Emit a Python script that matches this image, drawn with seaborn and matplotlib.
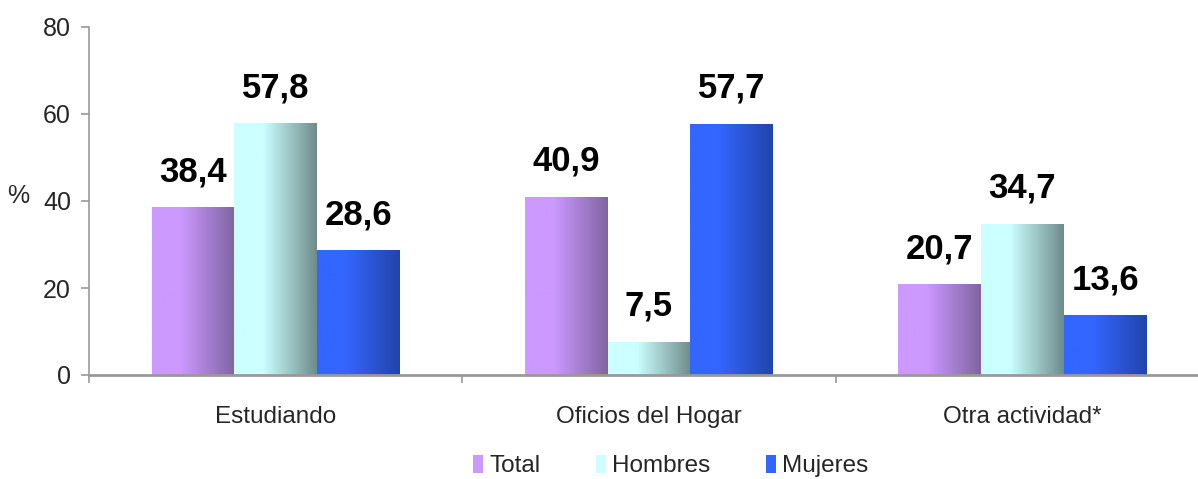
import matplotlib
matplotlib.use("Agg")
import matplotlib.pyplot as plt
import matplotlib.colors as mcolors
from matplotlib.patches import Patch
import seaborn as sns
import numpy as np
import pandas as pd

# DATA
categorias = ["Estudiando", "Oficios del Hogar", "Otra actividad*"]
series = ["Total", "Hombres", "Mujeres"]
total = [38.4, 40.9, 20.7]
hombres = [57.8, 7.5, 34.7]
mujeres = [28.6, 57.7, 13.6]

# gradient colours (left, right) per series
grad = {
    "Total": ("#CC99FF", "#8064A2"),
    "Hombres": ("#CCFFFF", "#6E8C8C"),
    "Mujeres": ("#3366FF", "#2244AA"),
}

df = pd.DataFrame({
    "cat": categorias * 3,
    "serie": [s for s in series for _ in categorias],
    "val": total + hombres + mujeres,
})

sns.set_theme(style="white")
plt.rcParams["font.family"] = ["Liberation Sans", "DejaVu Sans"]

fig = plt.figure(figsize=(11.98, 4.79), dpi=100)
ax = fig.add_axes([89 / 1198, 104 / 479, 1 - 89 / 1198, 348 / 479])

palette = {s: grad[s][0] for s in series}
sns.barplot(data=df, x="cat", y="val", hue="serie", order=categorias, hue_order=series,
            palette=palette, width=0.665, ax=ax, legend=False, saturation=1)

## GRADIENT FILL
def grad_img(c0, c1):
    a = np.array(mcolors.to_rgb(c0))
    b = np.array(mcolors.to_rgb(c1))
    t = np.linspace(0, 1, 200)
    t = np.clip((t - 0.35) / 0.65, 0, 1)
    row = a[None, :] * (1 - t[:, None]) + b[None, :] * t[:, None]
    return row[None, :, :]

n = len(categorias)
for k, p in enumerate(ax.patches[: n * len(series)]):
    s = series[k // n]
    x0, y0 = p.get_x(), p.get_y()
    w, h = p.get_width(), p.get_height()
    ax.imshow(grad_img(*grad[s]), extent=(x0, x0 + w, y0, y0 + h), aspect="auto",
              interpolation="bilinear", zorder=p.get_zorder())
    p.set_facecolor("none")
    p.set_edgecolor("none")
    ax.annotate(f"{h:.1f}".replace(".", ","), (x0 + w / 2, h), xytext=(0, 14),
                textcoords="offset points", ha="center", va="bottom",
                fontsize=25, fontweight="bold", color="black")

ax.set_xlim(-0.5, 2.5 - 11 / 373)
ax.set_ylim(0, 80)

## AXES STYLE
for sp in ["top", "right"]:
    ax.spines[sp].set_visible(False)
ax.spines["left"].set_color("#999999")
ax.spines["left"].set_linewidth(1.2)
ax.spines["bottom"].set_color("#999999")
ax.spines["bottom"].set_linewidth(2)

ax.set_yticks([0, 20, 40, 60, 80])
ax.tick_params(axis="y", which="major", direction="out", length=6, width=1.2,
               color="#999999", labelsize=18, pad=7, left=True)
ax.set_xticks(range(n))
ax.set_xticklabels(categorias)
ax.tick_params(axis="x", which="major", length=0, labelsize=17.5, pad=22)
ax.set_xticks([-0.5, 0.5, 1.5], minor=True)
ax.tick_params(axis="x", which="minor", direction="out", length=6, width=1.2,
               color="#999999", bottom=True)
ax.set_xlabel("")
ax.set_ylabel("")
fig.text(18 / 1198, 1 - 196 / 479, "%", fontsize=18, ha="center", va="center")

## LEGEND
handles = [Patch(facecolor=grad[s][0], edgecolor="none") for s in series]
fig.legend(handles, series, loc="center", bbox_to_anchor=(0.56, 13 / 479), ncol=3,
           frameon=False, fontsize=17.5, handlelength=0.4, handleheight=0.8,
           handletextpad=0.25, columnspacing=2.3)

plt.savefig("out.png", dpi=100)
